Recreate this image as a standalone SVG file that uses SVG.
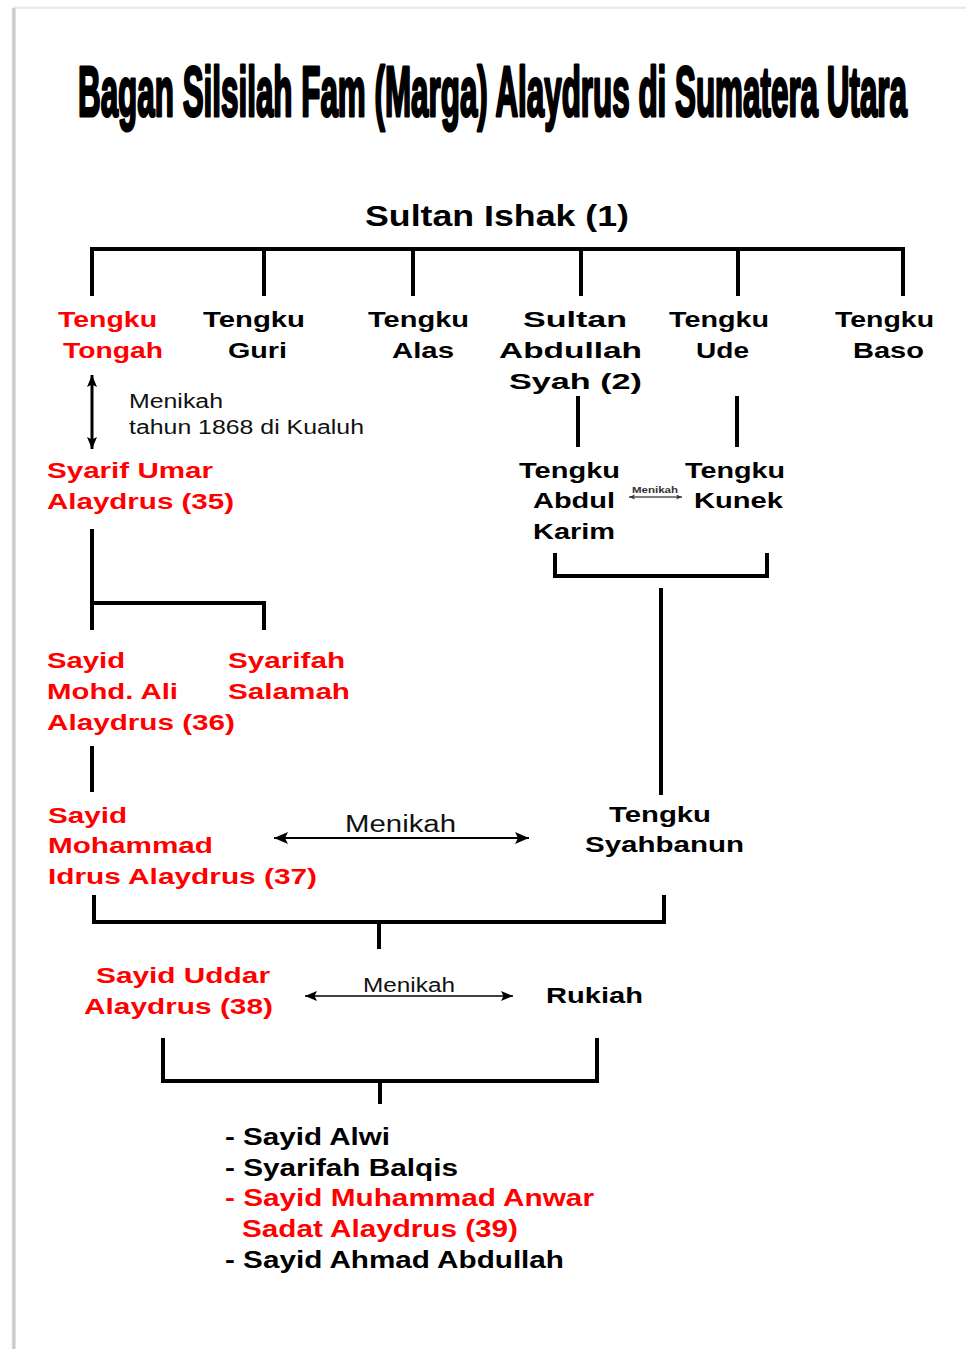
<svg xmlns="http://www.w3.org/2000/svg" width="966" height="1349" viewBox="0 0 966 1349">
<defs>
<style>
text{font-family:"Liberation Sans",Arial,sans-serif}
.t{font-weight:bold;font-size:30px;fill:#000;stroke:#000;stroke-width:1.3;stroke-linejoin:round}
.b{font-weight:bold;font-size:22px;fill:#000}
.l{font-weight:bold;font-size:23px;fill:#000}
.r{fill:#f00}
.m{font-weight:normal;fill:#111}
.c{fill:none;stroke:#000;stroke-width:4}
.a{fill:none;stroke:#000}
</style>
<linearGradient id="gl" x1="0" y1="0" x2="1" y2="0">
<stop offset="0" stop-color="#fff"/>
<stop offset="0.5" stop-color="#c4c4c4"/>
<stop offset="1" stop-color="#e6e6e6"/>
</linearGradient>
<linearGradient id="gt" x1="0" y1="0" x2="0" y2="1">
<stop offset="0" stop-color="#fff"/>
<stop offset="0.6" stop-color="#e2e2e2"/>
<stop offset="1" stop-color="#f4f4f4"/>
</linearGradient>
<marker id="ah1" markerUnits="userSpaceOnUse" markerWidth="16" markerHeight="14" refX="14" refY="6" orient="auto-start-reverse">
<path d="M0,0 L14,6 L0,12 L3,6 z" fill="#000"/>
</marker>
<marker id="ah2" markerUnits="userSpaceOnUse" markerWidth="14" markerHeight="12" refX="12" refY="5" orient="auto-start-reverse">
<path d="M0,0 L12,5 L0,10 L2.5,5 z" fill="#000"/>
</marker>
<marker id="ah3" markerUnits="userSpaceOnUse" markerWidth="8" markerHeight="6" refX="6" refY="2.5" orient="auto-start-reverse">
<path d="M0,0 L6,2.5 L0,5 L1.5,2.5 z" fill="#333"/>
</marker>
</defs>
<rect width="966" height="1349" fill="#fff"/>
<rect x="13" y="6" width="953" height="3" fill="url(#gt)"/>
<rect x="11" y="8" width="5" height="1341" fill="url(#gl)"/>

<g id="title"><text class="t" transform="translate(0,116) scale(1,2.37)" x="78" y="0" textLength="829" lengthAdjust="spacingAndGlyphs">Bagan Silsilah Fam (Marga) Alaydrus di Sumatera Utara</text></g>

<g id="connectors">
<path class="c" d="M92,296 V249 H905 M264,249 V296 M413,249 V296 M581,249 V296 M738,249 V296 M903,249 V296"/>
<path class="c" d="M578,396 V447 M737,396 V447"/>
<path class="c" d="M555,553 V576 H767 V553 M661,588 V795"/>
<path class="c" d="M92,529 V630 M92,603 H264 V630 M92,746 V792"/>
<path class="c" d="M94,895 V922 H664 V895 M379,922 V949"/>
<path class="c" d="M163,1038 V1081 H597 V1038 M380,1081 V1104"/>
<path class="a" stroke-width="3" d="M92,375 V449" marker-start="url(#ah2)" marker-end="url(#ah2)"/>
<path class="a" stroke-width="1.2" stroke="#333" d="M629,497 H682" marker-start="url(#ah3)" marker-end="url(#ah3)"/>
<path class="a" stroke-width="2" d="M274,838 H529" marker-start="url(#ah1)" marker-end="url(#ah1)"/>
<path class="a" stroke-width="1.6" d="M305,996 H513" marker-start="url(#ah2)" marker-end="url(#ah2)"/>
</g>

<g id="n_sultan_ishak"><text class="b" style="font-size:29px" x="365" y="226" textLength="264" lengthAdjust="spacingAndGlyphs">Sultan Ishak (1)</text></g>

<g id="n_tengku_tongah">
<text class="b r" x="58" y="327" textLength="99" lengthAdjust="spacingAndGlyphs">Tengku</text>
<text class="b r" x="63" y="358" textLength="100" lengthAdjust="spacingAndGlyphs">Tongah</text>
</g>
<g id="n_tengku_guri">
<text class="b" x="203" y="327" textLength="102" lengthAdjust="spacingAndGlyphs">Tengku</text>
<text class="b" x="228" y="358" textLength="59" lengthAdjust="spacingAndGlyphs">Guri</text>
</g>
<g id="n_tengku_alas">
<text class="b" x="368" y="327" textLength="101" lengthAdjust="spacingAndGlyphs">Tengku</text>
<text class="b" x="392" y="358" textLength="62" lengthAdjust="spacingAndGlyphs">Alas</text>
</g>
<g id="n_sultan_abdullah">
<text class="b" x="523" y="327" textLength="104" lengthAdjust="spacingAndGlyphs">Sultan</text>
<text class="b" x="499" y="358" textLength="143" lengthAdjust="spacingAndGlyphs">Abdullah</text>
<text class="b" x="509" y="389" textLength="133" lengthAdjust="spacingAndGlyphs">Syah (2)</text>
</g>
<g id="n_tengku_ude">
<text class="b" x="669" y="327" textLength="100" lengthAdjust="spacingAndGlyphs">Tengku</text>
<text class="b" x="696" y="358" textLength="53" lengthAdjust="spacingAndGlyphs">Ude</text>
</g>
<g id="n_tengku_baso">
<text class="b" x="835" y="327" textLength="99" lengthAdjust="spacingAndGlyphs">Tengku</text>
<text class="b" x="853" y="358" textLength="71" lengthAdjust="spacingAndGlyphs">Baso</text>
</g>

<g id="lbl_menikah1">
<text class="m" style="font-size:19.5px" x="129" y="408" textLength="94" lengthAdjust="spacingAndGlyphs">Menikah</text>
<text class="m" style="font-size:19.5px" x="129" y="434" textLength="235" lengthAdjust="spacingAndGlyphs">tahun 1868 di Kualuh</text>
</g>

<g id="n_syarif_umar">
<text class="b r" x="47" y="478" textLength="166" lengthAdjust="spacingAndGlyphs">Syarif Umar</text>
<text class="b r" x="47" y="509" textLength="187" lengthAdjust="spacingAndGlyphs">Alaydrus (35)</text>
</g>

<g id="n_tengku_abdul_karim">
<text class="b" x="519" y="478" textLength="101" lengthAdjust="spacingAndGlyphs">Tengku</text>
<text class="b" x="533" y="508" textLength="82" lengthAdjust="spacingAndGlyphs">Abdul</text>
<text class="b" x="533" y="539" textLength="82" lengthAdjust="spacingAndGlyphs">Karim</text>
</g>
<g id="n_tengku_kunek">
<text class="b" x="685" y="478" textLength="100" lengthAdjust="spacingAndGlyphs">Tengku</text>
<text class="b" x="694" y="508" textLength="89" lengthAdjust="spacingAndGlyphs">Kunek</text>
</g>
<g id="lbl_menikah2"><text style="font-size:8.5px;font-weight:bold;fill:#333" x="632" y="493" textLength="46" lengthAdjust="spacingAndGlyphs">Menikah</text></g>

<g id="n_sayid_mohd_ali">
<text class="b r" x="47" y="668" textLength="78" lengthAdjust="spacingAndGlyphs">Sayid</text>
<text class="b r" x="47" y="699" textLength="131" lengthAdjust="spacingAndGlyphs">Mohd. Ali</text>
<text class="b r" x="47" y="730" textLength="188" lengthAdjust="spacingAndGlyphs">Alaydrus (36)</text>
</g>
<g id="n_syarifah_salamah">
<text class="b r" x="228" y="668" textLength="117" lengthAdjust="spacingAndGlyphs">Syarifah</text>
<text class="b r" x="228" y="699" textLength="122" lengthAdjust="spacingAndGlyphs">Salamah</text>
</g>

<g id="n_sayid_mohammad_idrus">
<text class="b r" x="48" y="823" textLength="79" lengthAdjust="spacingAndGlyphs">Sayid</text>
<text class="b r" x="48" y="853" textLength="165" lengthAdjust="spacingAndGlyphs">Mohammad</text>
<text class="b r" x="48" y="884" textLength="269" lengthAdjust="spacingAndGlyphs">Idrus Alaydrus (37)</text>
</g>
<g id="lbl_menikah3"><text class="m" style="font-size:23px" x="345" y="832" textLength="111" lengthAdjust="spacingAndGlyphs">Menikah</text></g>
<g id="n_tengku_syahbanun">
<text class="b" x="609" y="822" textLength="102" lengthAdjust="spacingAndGlyphs">Tengku</text>
<text class="b" x="585" y="852" textLength="159" lengthAdjust="spacingAndGlyphs">Syahbanun</text>
</g>

<g id="n_sayid_uddar">
<text class="b r" x="96" y="983" textLength="174" lengthAdjust="spacingAndGlyphs">Sayid Uddar</text>
<text class="b r" x="84" y="1014" textLength="189" lengthAdjust="spacingAndGlyphs">Alaydrus (38)</text>
</g>
<g id="lbl_menikah4"><text class="m" style="font-size:20px" x="363" y="992" textLength="92" lengthAdjust="spacingAndGlyphs">Menikah</text></g>
<g id="n_rukiah"><text class="b" x="546" y="1003" textLength="97" lengthAdjust="spacingAndGlyphs">Rukiah</text></g>

<g id="n_children">
<text class="l" x="225" y="1145" textLength="165" lengthAdjust="spacingAndGlyphs">- Sayid Alwi</text>
<text class="l" x="225" y="1176" textLength="233" lengthAdjust="spacingAndGlyphs">- Syarifah Balqis</text>
<text class="l r" x="225" y="1206" textLength="369" lengthAdjust="spacingAndGlyphs">- Sayid Muhammad Anwar</text>
<text class="l r" x="242" y="1237" textLength="276" lengthAdjust="spacingAndGlyphs">Sadat Alaydrus (39)</text>
<text class="l" x="225" y="1268" textLength="339" lengthAdjust="spacingAndGlyphs">- Sayid Ahmad Abdullah</text>
</g>
</svg>
